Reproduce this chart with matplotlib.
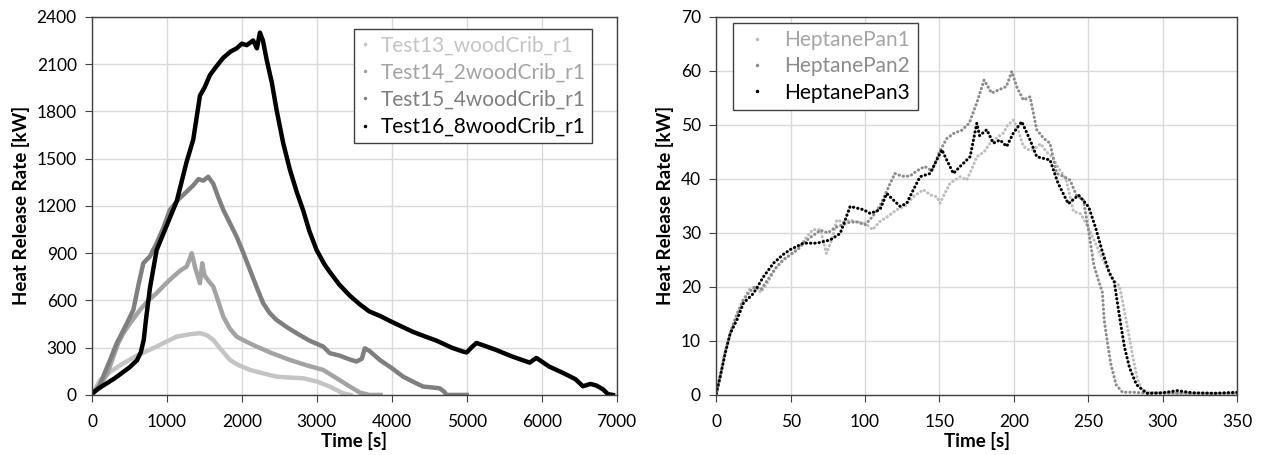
import matplotlib
matplotlib.use("Agg")
import matplotlib.pyplot as plt
from matplotlib.lines import Line2D

plt.rcParams.update({
    "font.family": ["Lato", "DejaVu Sans"],
    "font.size": 12.5,
    "xtick.labelsize": 12.5,
    "ytick.labelsize": 12.5,
})

# wood crib tests (left panel), time [s] and HRR [kW]
t13 = [0, 107, 250, 418, 600, 862, 1000, 1129, 1300, 1440, 1530, 1618, 1700, 1840, 1950,
       2107, 2300, 2462, 2650, 2818, 3000, 3173, 3351, 3450]
q13 = [0, 95, 150, 201, 250, 307, 340, 370, 385, 392, 380, 349, 300, 222, 190,
       159, 135, 116, 110, 106, 85, 53, 10, 0]

t14 = [0, 100, 200, 284, 350, 418, 500, 640, 750, 862, 970, 1084, 1180, 1262, 1300, 1330,
       1380, 1440, 1470, 1500, 1560, 1618, 1680, 1751, 1840, 1929, 2050, 2196, 2400, 2640,
       2850, 3084, 3250, 3440, 3573, 3700, 3850]
q14 = [0, 60, 130, 243, 330, 392, 450, 540, 600, 646, 700, 751, 790, 815, 860, 900,
       800, 709, 836, 760, 720, 688, 600, 497, 420, 370, 340, 307, 265, 222,
       190, 159, 110, 53, 15, 0, 0]

t15 = [0, 100, 240, 329, 450, 551, 620, 684, 773, 862, 950, 1040, 1150, 1262, 1350, 1420,
       1484, 1550, 1618, 1680, 1751, 1840, 1929, 2020, 2107, 2200, 2284, 2370, 2462, 2600,
       2729, 2900, 3084, 3173, 3300, 3440, 3529, 3600, 3640, 3700, 3840, 4000, 4151, 4300,
       4418, 4530, 4640, 4700, 4729, 4850, 5000]
q15 = [0, 60, 222, 328, 440, 540, 700, 836, 880, 963, 1060, 1175, 1240, 1290, 1330, 1370,
       1360, 1385, 1340, 1260, 1175, 1090, 1005, 900, 794, 680, 582, 520, 476, 430,
       392, 345, 307, 265, 250, 225, 212, 230, 296, 280, 222, 170, 116, 80,
       53, 48, 42, 20, 0, 0, 0]

t16 = [0, 100, 200, 300, 400, 500, 600, 650, 690, 720, 773, 862, 1000, 1130, 1262, 1350,
       1440, 1500, 1573, 1650, 1751, 1850, 1929, 2000, 2063, 2150, 2200, 2240, 2280, 2329,
       2400, 2462, 2550, 2640, 2730, 2818, 2900, 2996, 3100, 3173, 3300, 3440, 3573, 3700,
       3850, 3973, 4150, 4284, 4450, 4595, 4800, 4951, 5000, 5060, 5129, 5250, 5395, 5600,
       5840, 5929, 6100, 6284, 6450, 6551, 6650, 6729, 6820, 6884, 6950]
q16 = [10, 45, 75, 105, 140, 175, 220, 270, 350, 480, 680, 920, 1080, 1230, 1480, 1620,
       1900, 1950, 2030, 2080, 2140, 2180, 2200, 2230, 2220, 2250, 2200, 2300, 2250, 2130,
       1980, 1810, 1600, 1430, 1290, 1170, 1040, 920, 830, 780, 700, 630, 575, 530,
       500, 470, 430, 400, 370, 345, 300, 275, 270, 300, 330, 310, 285, 245,
       205, 235, 180, 140, 100, 55, 70, 60, 35, 5, 0]

# heptane pans (right panel)
tp1 = [0, 3, 6, 10, 14, 18, 22, 26, 30, 35, 40, 45, 50, 55, 60, 65, 70, 74, 78, 81, 85,
       90, 95, 100, 105, 110, 115, 121.4, 127, 132.5, 139.2, 144, 148.2, 150.4, 153, 157.2,
       163.9, 168.4, 172, 175.1, 180, 184, 188, 193, 196, 199.7, 203, 206.4, 210, 213, 218,
       222, 226, 230, 235, 240, 245, 250, 255, 260, 265, 268, 271, 274, 276.7, 280, 283,
       286, 290, 300, 320, 350]
qp1 = [0, 4, 8, 12, 15, 17.5, 19.5, 20, 19, 21, 23.5, 25, 26, 27, 29, 30.6, 30.6, 26.2,
       29, 32.4, 32, 32.4, 32, 31.8, 30.6, 32.1, 33, 34.3, 35, 36.7, 38, 37, 36.7, 35.5, 37,
       39.2, 40.4, 39.8, 42, 44.1, 45, 46.6, 47.5, 48.5, 50, 50.9, 49, 46, 45.4, 45.4, 46.5,
       45, 44, 42, 40, 34, 33.5, 31, 28, 25, 22, 21, 20.2, 16, 12, 7, 3,
       1, 0.5, 0.4, 0.3, 0.3]

tp2 = [0, 3, 6, 10, 14, 18, 22, 26, 30, 35, 40, 45, 50, 55, 60, 65, 70, 75, 80, 85, 90,
       95, 100, 105, 110, 115, 120, 125, 130, 135, 140, 145, 150, 155, 160, 165, 170, 175,
       180, 185, 190, 195, 198.6, 202, 206.4, 210.9, 215.4, 220, 224.3, 228.8, 233, 237.7,
       242, 246.7, 250.3, 253.8, 257.2, 259.5, 260.7, 263, 265.2, 268.7, 273, 280, 290, 300,
       320, 350]
qp2 = [0, 4, 8, 12, 15, 17.5, 19, 20, 19.5, 21.5, 23.5, 25, 26, 27, 28.5, 29.5, 30.5, 30,
       31, 31.5, 32, 32, 31.5, 33, 35, 38, 41, 40.5, 40.5, 41.5, 42.3, 41.5, 45, 47.5,
       48.5, 49, 50.3, 54, 58.3, 55.9, 56.5, 57.1, 59.9, 57, 54.6, 55.2, 49.1, 47.5,
       46.6, 41, 40.5, 39.8, 37, 36.1, 30.3, 24, 20.9, 19, 13.9, 9.5, 5.7, 1.9, 0.5,
       0.5, 0.3, 0.3, 0.3, 0.3]

tp3 = [0, 2.7, 6, 9.4, 13.9, 18.3, 25, 31.8, 38.5, 45, 49.7, 58.6, 67.6, 76.6, 83.3, 90,
       98.9, 103.4, 110, 114.6, 119, 123.6, 128, 132.5, 137, 143.7, 151.6, 154.9, 159.4,
       163.9, 170.6, 175.1, 177, 181.8, 186.2, 190.7, 195.2, 199.7, 205.3, 210.9, 215.4,
       224.3, 229.7, 236.6, 243.5, 250.3, 254.9, 259.5, 264.1, 267.5, 269.8, 272.1, 274.4,
       277.8, 282.4, 289.3, 300, 310, 320, 335, 350]
qp3 = [0.3, 3.4, 7.7, 11.4, 13.9, 17, 18.8, 21.9, 24.4, 26, 26.9, 28.1, 28.1, 28.7, 29.9,
       34.9, 34.3, 33.6, 34.3, 37.3, 36.1, 34.9, 35.5, 38, 40.4, 41, 45.4, 43.5, 41,
       42.3, 44.1, 50.3, 48, 49.1, 46.6, 47.2, 46, 48.5, 50.6, 47.2, 44.1,
       43.5, 39.2, 35.4, 37, 34.8, 31, 26.5, 22.7, 20.9, 16.7, 12.6, 8.8,
       5, 1.9, 0.3, 0.4, 0.8, 0.4, 0.3, 0.5]

wood_series = [
    ("Test13_woodCrib_r1", t13, q13, "#c4c4c4"),
    ("Test14_2woodCrib_r1", t14, q14, "#a3a3a3"),
    ("Test15_4woodCrib_r1", t15, q15, "#7f7f7f"),
    ("Test16_8woodCrib_r1", t16, q16, "#000000"),
]
pan_series = [
    ("HeptanePan1", tp1, qp1, "#bdbdbd", "#a6a6a6"),
    ("HeptanePan2", tp2, qp2, "#8c8c8c", "#8c8c8c"),
    ("HeptanePan3", tp3, qp3, "#000000", "#000000"),
]

fig = plt.figure(figsize=(12.61, 4.55), dpi=100)
ax1 = fig.add_axes([0.073, 0.132, 0.416, 0.831])
ax2 = fig.add_axes([0.568, 0.132, 0.413, 0.831])


def style_axis(ax):
    ax.grid(True, color="#d9d9d9", linewidth=1.0)
    ax.set_axisbelow(True)
    for side in ["left", "bottom", "top", "right"]:
        ax.spines[side].set_color("#404040")
        ax.spines[side].set_linewidth(1.0)
    ax.tick_params(direction="out", length=5, color="#404040", pad=6)
    ax.tick_params(axis="x", pad=9)
    ax.set_ylabel("Heat Release Rate [kW]", fontsize=13.5, fontweight="bold", labelpad=5)
    ax.set_xlabel("Time [s]", fontsize=13.5, fontweight="bold", labelpad=1)


handles = []
for name, t, q, col in wood_series:
    ax1.plot(t, q, color=col, linewidth=3.2, solid_joinstyle="round")
    handles.append(Line2D([], [], color=col, marker=".", linestyle="none", markersize=3))
ax1.set_xlim(0, 7000)
ax1.set_ylim(0, 2400)
ax1.set_xticks(range(0, 7001, 1000))
ax1.set_yticks(range(0, 2401, 300))
style_axis(ax1)
leg1 = ax1.legend(handles, [s[0] for s in wood_series], loc="upper right",
                  bbox_to_anchor=(0.953, 0.968), fontsize=15, fancybox=False,
                  edgecolor="#404040", framealpha=1, handlelength=0.5, handletextpad=0.5,
                  borderpad=0.3, labelspacing=0.35, borderaxespad=0)
leg1.get_frame().set_linewidth(1.0)
for txt, s in zip(leg1.get_texts(), wood_series):
    txt.set_color(s[3])

handles = []
for name, t, q, col, lcol in pan_series:
    ax2.plot(t, q, color=col, linewidth=2.2, linestyle=(0, (0.1, 1.3)),
             dash_capstyle="round")
    handles.append(Line2D([], [], color=col, marker=".", linestyle="none", markersize=3))
ax2.set_xlim(0, 350)
ax2.set_ylim(0, 70)
ax2.set_xticks(range(0, 351, 50))
ax2.set_yticks(range(0, 71, 10))
style_axis(ax2)
leg2 = ax2.legend(handles, [s[0] for s in pan_series], loc="upper left",
                  bbox_to_anchor=(0.033, 0.984), fontsize=15, fancybox=False,
                  edgecolor="#404040", framealpha=1, handlelength=1.6, handletextpad=0.5,
                  borderpad=0.35, labelspacing=0.3, borderaxespad=0)
leg2.get_frame().set_linewidth(1.0)
for txt, s in zip(leg2.get_texts(), pan_series):
    txt.set_color(s[4])

fig.savefig("out.png", dpi=100)
